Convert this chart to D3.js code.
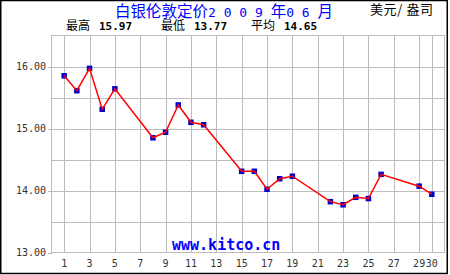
<!DOCTYPE html>
<html>
<head>
<meta charset="utf-8">
<script src="https://cdn.jsdelivr.net/npm/d3@7"></script>
<style>
  html, body { margin: 0; padding: 0; background: #fff; }
  svg { display: block; }
  text { white-space: pre; }
</style>
</head>
<body>
<div id="chart"></div>
<script>
// Silver London fix, June 2009 (USD / oz)
const days = [1, 2, 3, 4, 5, 8, 9, 10, 11, 12, 15, 16, 17, 18, 19, 22, 23, 24, 25, 26, 29, 30];
const prices = [15.85, 15.61, 15.97, 15.31, 15.64, 14.85, 14.94, 15.38, 15.10, 15.06,
                14.31, 14.31, 14.02, 14.19, 14.23, 13.82, 13.77, 13.89, 13.87, 14.26, 14.07, 13.94];
const xTicks = [1, 3, 5, 7, 9, 11, 13, 15, 17, 19, 21, 23, 25, 27, 29, 30];
const yTicks = [13, 14, 15, 16];
const yGrid = [13.5, 14, 14.5, 15, 15.5, 16];
const stats = [
    { label: '最高', value: '15.97', x: 66 },
    { label: '最低', value: '13.77', x: 161 },
    { label: '平均', value: '14.65', x: 251 }
];

const width = 450;
const height = 275;

const svg = d3.select('#chart')
    .append('svg')
    .attr('width', width)
    .attr('height', height);

const x = d3.scaleLinear().domain([0, 31]).range([51.5, 444.5]);
const y = d3.scaleLinear().domain([13, 16.5]).range([252.5, 35.5]);

// outer frame
svg.append('rect')
    .attr('x', 0.75).attr('y', 0.5)
    .attr('width', 446.5).attr('height', 273)
    .attr('fill', '#fff')
    .attr('stroke', '#000')
    .attr('stroke-width', 1.5);

// grid
const grid = svg.append('g')
    .attr('stroke', '#bdbdbd')
    .attr('stroke-width', 1)
    .attr('shape-rendering', 'crispEdges');

grid.selectAll('.vg')
    .data(xTicks)
    .enter()
    .append('line')
    .attr('x1', d => Math.round(x(d)) + 0.5)
    .attr('x2', d => Math.round(x(d)) + 0.5)
    .attr('y1', y(16.5))
    .attr('y2', y(13));

grid.selectAll('.hg')
    .data(yGrid)
    .enter()
    .append('line')
    .attr('x1', x(0))
    .attr('x2', x(31))
    .attr('y1', d => Math.round(y(d)) + 0.5)
    .attr('y2', d => Math.round(y(d)) + 0.5);

// y tick marks sticking out left
grid.selectAll('.yt')
    .data(yTicks)
    .enter()
    .append('line')
    .attr('x1', x(0) - 4)
    .attr('x2', x(0))
    .attr('y1', d => Math.round(y(d)) + 0.5)
    .attr('y2', d => Math.round(y(d)) + 0.5);

grid.append('rect')
    .attr('x', x(0)).attr('y', y(16.5))
    .attr('width', x(31) - x(0))
    .attr('height', y(13) - y(16.5))
    .attr('fill', 'none');

// axis labels
svg.append('g')
    .selectAll('text')
    .data(yTicks)
    .enter()
    .append('text')
    .attr('x', 46)
    .attr('y', d => y(d) + 3.5)
    .attr('text-anchor', 'end')
    .attr('font-family', 'DejaVu Sans Mono')
    .attr('font-size', 10)
    .attr('fill', '#333')
    .text(d => d.toFixed(2));

svg.append('g')
    .selectAll('text')
    .data(xTicks)
    .enter()
    .append('text')
    .attr('x', d => x(d))
    .attr('y', 267)
    .attr('text-anchor', 'middle')
    .attr('font-family', 'DejaVu Sans Mono')
    .attr('font-size', 10)
    .attr('fill', '#333')
    .text(d => d);

// watermark
svg.append('text')
    .attr('x', 172)
    .attr('y', 250)
    .attr('font-family', 'DejaVu Sans Mono')
    .attr('font-weight', 'bold')
    .attr('font-size', 15)
    .attr('fill', '#0000ff')
    .text('www.kitco.cn');

// header
const title = svg.append('text')
    .attr('x', 115)
    .attr('y', 16.5)
    .attr('font-family', 'Noto Sans CJK SC')
    .attr('font-size', 15.5)
    .attr('fill', '#0000ff');
[['白银伦敦定价', false], ['2 0 0 9 ', true], ['年', false], ['0 6 ', true], ['月', false]]
    .forEach(([t, mono]) => {
        const ts = title.append('tspan').text(t);
        if (mono) ts.attr('font-family', 'DejaVu Sans Mono').attr('font-size', 13);
    });

svg.append('text')
    .attr('x', 370)
    .attr('y', 13.5)
    .attr('font-family', 'Noto Sans CJK SC')
    .attr('font-size', 13)
    .attr('textLength', 63)
    .attr('fill', '#000')
    .text('美元/ 盎司');

const st = svg.append('g');
st.selectAll('.sl')
    .data(stats)
    .enter()
    .append('text')
    .attr('x', d => d.x)
    .attr('y', 29.5)
    .attr('font-family', 'Noto Sans CJK SC')
    .attr('font-size', 12)
    .attr('fill', '#000')
    .text(d => d.label);
st.selectAll('.sv')
    .data(stats)
    .enter()
    .append('text')
    .attr('x', d => d.x + 33)
    .attr('y', 29.5)
    .attr('font-family', 'DejaVu Sans Mono')
    .attr('font-weight', 'bold')
    .attr('font-size', 11)
    .attr('fill', '#000')
    .text(d => d.value);

// markers then line
const pts = days.map((d, i) => [d, prices[i]]);

svg.append('g')
    .selectAll('rect')
    .data(pts)
    .enter()
    .append('rect')
    .attr('x', d => x(d[0]) - 2.75)
    .attr('y', d => y(d[1]) - 2.75)
    .attr('width', 5.5)
    .attr('height', 5.5)
    .attr('fill', '#0000cc');

svg.append('path')
    .datum(pts)
    .attr('fill', 'none')
    .attr('stroke', '#ff0000')
    .attr('stroke-width', 1.5)
    .attr('d', d3.line().x(d => x(d[0])).y(d => y(d[1])));
</script>
</body>
</html>
